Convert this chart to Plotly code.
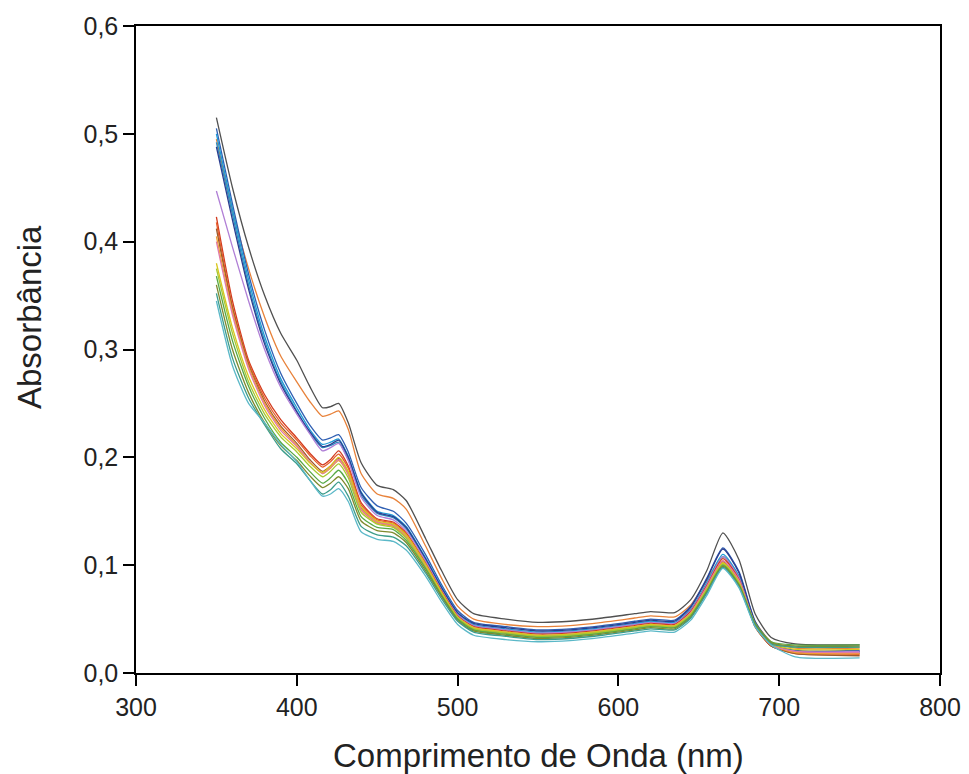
import plotly.graph_objects as go

wavelength = [350, 360, 370, 380, 390, 400, 408, 416, 421, 426, 432, 440, 450, 460, 468, 480, 490,
              500, 510, 530, 550, 570, 590, 610, 620, 635, 645, 655, 665, 675, 685, 695, 710, 750]

s01 = [.515, .450, .395, .350, .315, .290, .266, .246, .247, .250, .232, .195, .174, .170, .160, .125, .095, .068, .055, .050, .047, .048, .051, .055, .057, .056, .068, .095, .130, .105, .055, .033, .027, .026]
s02 = [.495, .430, .375, .330, .294, .270, .252, .238, .240, .243, .226, .185, .166, .162, .152, .118, .088, .062, .050, .045, .043, .044, .047, .051, .053, .052, .063, .086, .108, .090, .048, .029, .023, .023]
s03 = [.505, .435, .370, .318, .278, .250, .230, .216, .218, .221, .205, .172, .155, .150, .139, .110, .082, .058, .047, .043, .040, .041, .044, .048, .050, .049, .062, .088, .116, .094, .048, .028, .021, .021]
s04 = [.500, .430, .365, .312, .273, .246, .226, .212, .214, .217, .201, .168, .150, .146, .136, .107, .080, .056, .045, .041, .038, .039, .042, .046, .048, .047, .059, .084, .110, .090, .046, .027, .020, .020]
s05 = [.492, .425, .360, .308, .270, .243, .223, .209, .211, .214, .198, .165, .148, .144, .134, .105, .078, .055, .044, .040, .037, .038, .041, .045, .047, .046, .058, .082, .108, .088, .045, .026, .019, .019]
s06 = [.488, .420, .356, .305, .268, .242, .224, .210, .212, .216, .200, .167, .149, .145, .135, .106, .079, .056, .046, .042, .039, .040, .043, .047, .049, .048, .061, .087, .115, .093, .047, .027, .020, .020]
s07 = [.447, .395, .345, .300, .265, .240, .222, .206, .209, .213, .197, .163, .146, .142, .132, .104, .077, .054, .044, .040, .037, .038, .041, .045, .047, .046, .058, .082, .108, .088, .045, .026, .020, .020]
s08 = [.423, .345, .290, .258, .235, .218, .204, .193, .198, .206, .192, .158, .143, .140, .130, .102, .076, .053, .043, .039, .036, .037, .040, .044, .046, .045, .057, .081, .106, .087, .044, .025, .019, .018]
s09 = [.418, .340, .288, .255, .232, .216, .202, .191, .196, .203, .190, .156, .142, .139, .129, .101, .075, .052, .042, .038, .035, .036, .039, .043, .045, .044, .056, .080, .104, .086, .043, .025, .018, .017]
s10 = [.412, .338, .286, .252, .229, .213, .198, .187, .192, .199, .186, .153, .140, .137, .127, .100, .074, .051, .041, .037, .034, .035, .038, .042, .044, .043, .055, .079, .103, .085, .043, .025, .018, .016]
s11 = [.405, .335, .284, .250, .227, .211, .196, .185, .190, .197, .184, .151, .139, .136, .126, .099, .073, .051, .041, .037, .034, .035, .038, .042, .044, .043, .055, .078, .102, .084, .044, .026, .019, .018]
s12 = [.400, .332, .282, .248, .225, .210, .196, .185, .191, .198, .185, .152, .140, .137, .127, .100, .074, .052, .042, .038, .035, .036, .039, .043, .045, .044, .056, .080, .104, .086, .045, .026, .020, .019]
s13 = [.380, .320, .275, .244, .222, .208, .195, .186, .192, .200, .187, .154, .141, .138, .128, .101, .075, .052, .042, .038, .035, .036, .039, .043, .045, .044, .055, .078, .102, .084, .045, .027, .022, .022]
s14 = [.375, .315, .270, .240, .219, .205, .192, .182, .187, .194, .181, .149, .138, .135, .125, .098, .073, .051, .041, .037, .034, .035, .038, .042, .044, .043, .054, .077, .101, .083, .046, .028, .024, .024]
s15 = [.368, .308, .266, .236, .214, .200, .187, .176, .181, .188, .176, .145, .135, .133, .123, .097, .072, .050, .040, .036, .033, .034, .037, .041, .043, .042, .053, .076, .100, .082, .046, .029, .026, .026]
s16 = [.360, .300, .260, .232, .211, .197, .183, .172, .176, .182, .171, .141, .132, .130, .121, .095, .071, .049, .039, .035, .032, .033, .036, .040, .042, .041, .052, .075, .099, .081, .045, .028, .025, .025]
s17 = [.352, .292, .255, .230, .208, .194, .179, .166, .170, .177, .164, .136, .128, .126, .118, .093, .069, .048, .038, .034, .031, .032, .035, .039, .041, .040, .051, .074, .098, .080, .044, .027, .024, .024]
s18 = [.345, .285, .250, .232, .212, .196, .179, .164, .166, .171, .159, .131, .124, .122, .114, .090, .066, .045, .035, .031, .029, .030, .033, .037, .039, .038, .049, .072, .097, .079, .043, .026, .015, .014]

series = [s01, s02, s03, s04, s05, s06, s07, s08, s09, s10, s11, s12, s13, s14, s15, s16, s17, s18]
colors = ["#505050", "#e8823a", "#2f5fb3", "#1f9ad6", "#2b8cbe", "#2a3d8f", "#b07fd6", "#d23b1f", "#e8602c",
          "#9c5a2e", "#f0a030", "#e07aa8", "#d9c71e", "#a6c832", "#56a845", "#7f8a2e", "#3c9c8a", "#5bb8c8"]

x_ticks = [300, 400, 500, 600, 700, 800]
y_ticks = [0, 0.1, 0.2, 0.3, 0.4, 0.5, 0.6]
x_title = "Comprimento de Onda (nm)"
y_title = "Absorbância"

fig = go.Figure()
for vals, col in zip(series, colors):
    fig.add_trace(go.Scatter(x=wavelength, y=vals, mode="lines",
                             line=dict(color=col, width=1.3, shape="spline", smoothing=0.6),
                             showlegend=False, hoverinfo="skip"))

family = "Liberation Sans, Arial, sans-serif"
axis_font = dict(family=family, size=25, color="#222")
fig.update_layout(
    width=969, height=774,
    margin=dict(l=136, r=29, t=26, b=101, autoexpand=False),
    paper_bgcolor="white", plot_bgcolor="white",
    separators=",.",
    font=dict(family=family, color="#222"),
)
fig.update_xaxes(range=[300, 800], tickvals=x_ticks, automargin=False,
                 ticks="outside", ticklen=11, tickwidth=1.5, tickcolor="black",
                 showline=True, linecolor="black", linewidth=1.5, mirror=True,
                 showgrid=False, zeroline=False, tickfont=axis_font)
fig.update_yaxes(range=[0, 0.6], tickvals=y_ticks, tickformat=".1f", automargin=False,
                 ticks="outside", ticklen=11, tickwidth=1.5, tickcolor="black",
                 showline=True, linecolor="black", linewidth=1.5, mirror=True,
                 showgrid=False, zeroline=False, tickfont=axis_font)

fig.add_annotation(text=x_title, xref="paper", yref="paper", x=0.5, y=(673 - 755) / 647,
                   xanchor="center", yanchor="middle", showarrow=False,
                   font=dict(family=family, size=33, color="#222"))
fig.add_annotation(text=y_title, xref="paper", yref="paper", x=(29 - 136) / 804, y=(673 - 317) / 647,
                   xanchor="center", yanchor="middle", showarrow=False, textangle=-90,
                   font=dict(family=family, size=33, color="#222"))

fig.write_html("out.html")
